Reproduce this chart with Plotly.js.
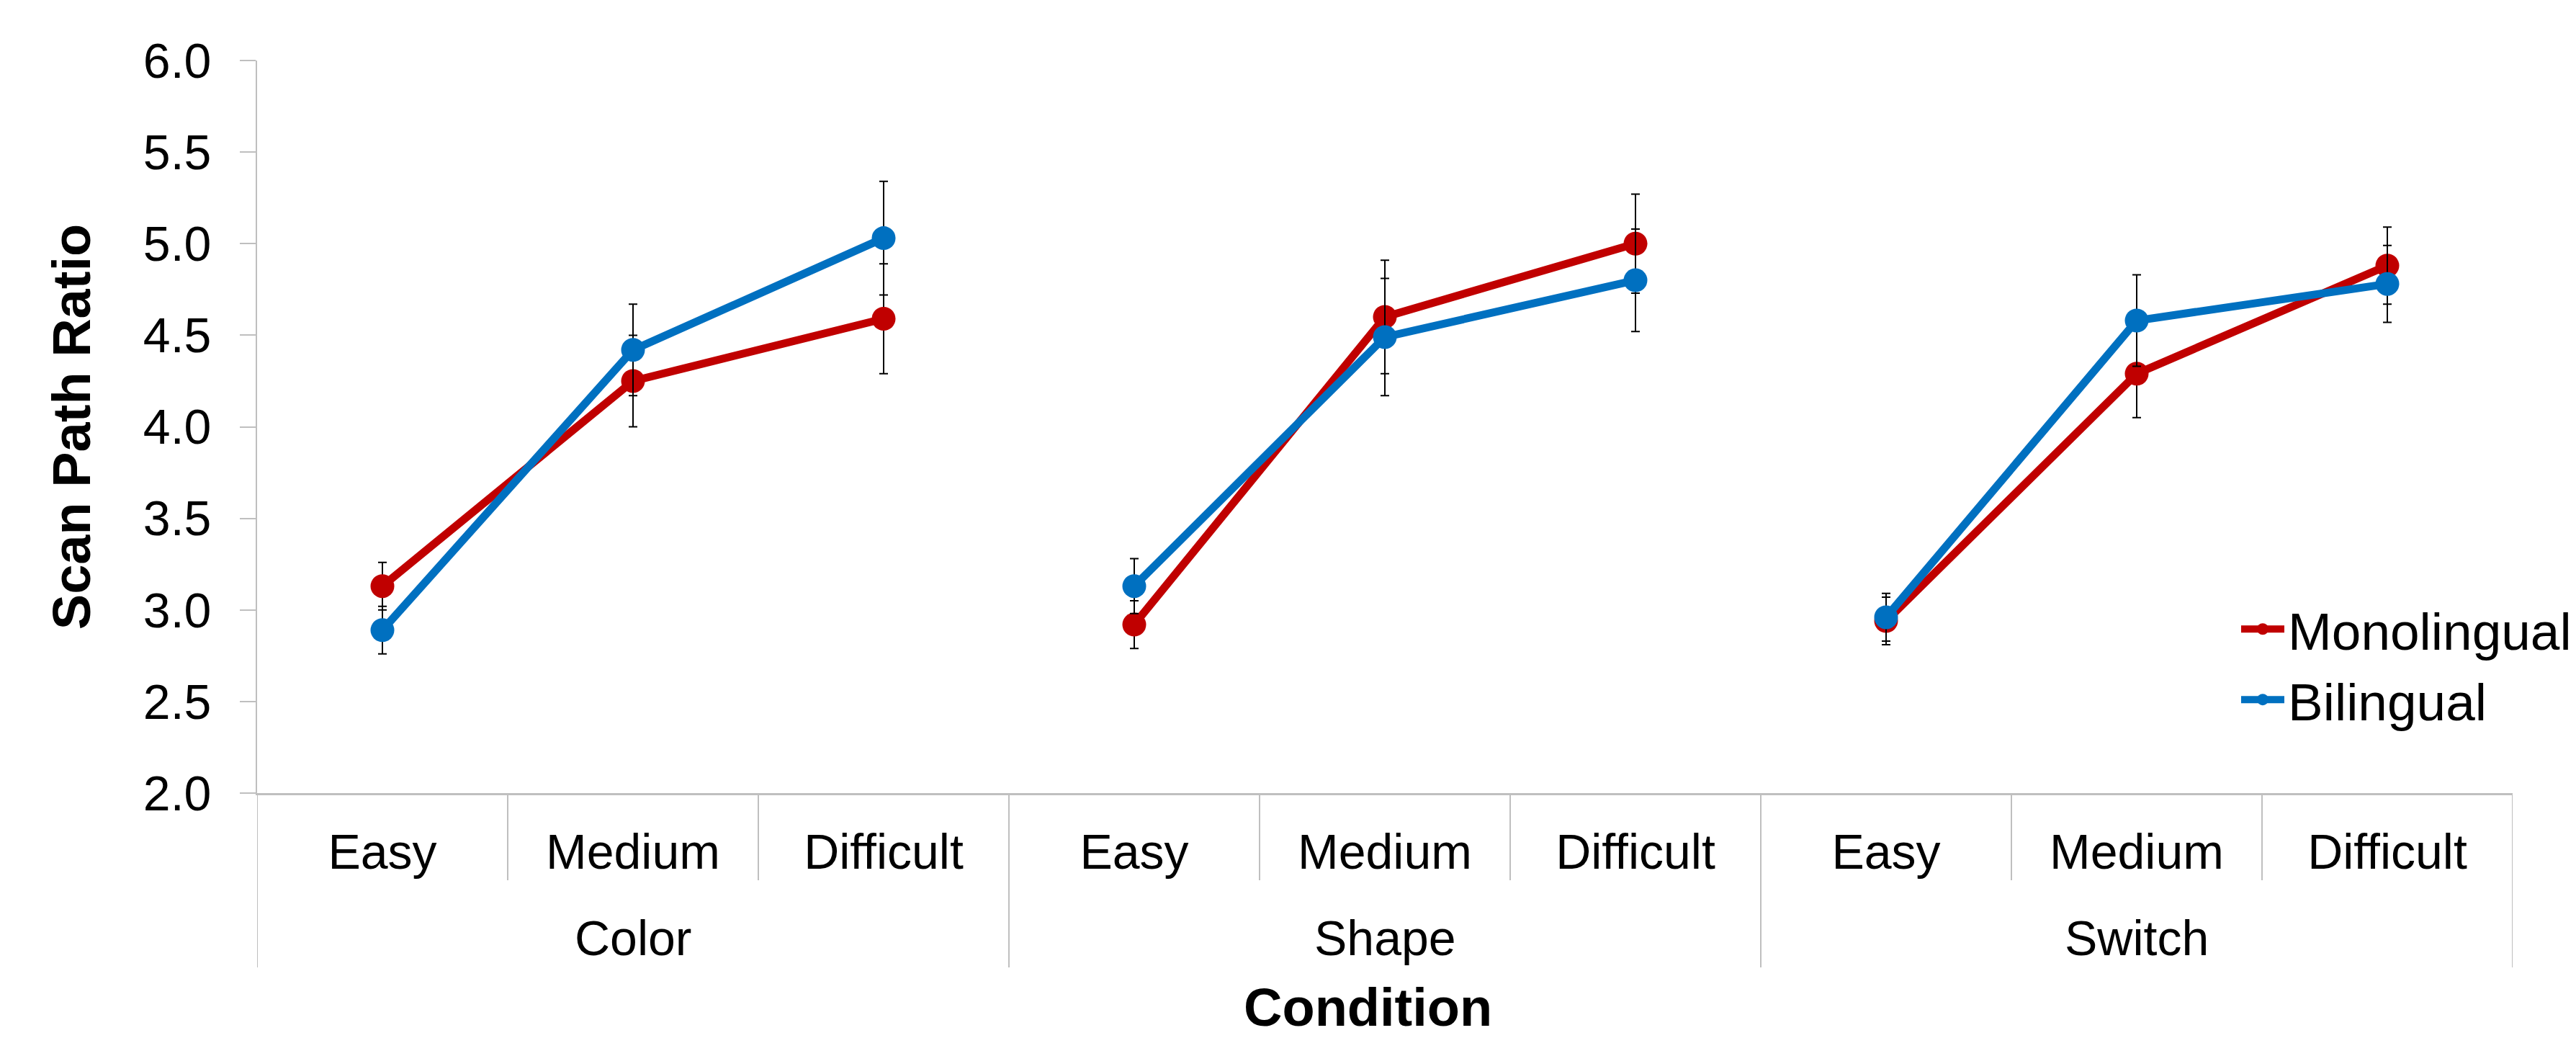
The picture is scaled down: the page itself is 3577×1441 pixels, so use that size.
<!DOCTYPE html>
<html>
<head>
<meta charset="utf-8">
<script src="https://cdn.plot.ly/plotly-3.0.1.min.js"></script>
<style>
  html, body { margin: 0; padding: 0; background: #ffffff; }
  #chart { width: 3577px; height: 1441px; }
</style>
</head>
<body>
<div id="chart"></div>
<script>
// ---- Data ----
const groups = ['Color', 'Shape', 'Switch'];
const levels = ['Easy', 'Medium', 'Difficult'];
const seriesNames = ['Monolingual', 'Bilingual'];
const monolingual    = [3.13, 4.25, 4.59, 2.92, 4.60, 5.00, 2.94, 4.29, 4.88];
const monolingualErr = [0.13, 0.25, 0.30, 0.13, 0.31, 0.27, 0.13, 0.24, 0.21];
const bilingual      = [2.89, 4.42, 5.03, 3.13, 4.49, 4.80, 2.96, 4.58, 4.78];
const bilingualErr   = [0.13, 0.25, 0.31, 0.15, 0.32, 0.28, 0.13, 0.25, 0.21];
const yTickVals = [2.0, 2.5, 3.0, 3.5, 4.0, 4.5, 5.0, 5.5, 6.0];
const xTitle = 'Condition';
const yTitle = 'Scan Path Ratio';

// ---- Styling ----
const FONT = 'Liberation Sans, Arial, Helvetica, sans-serif';
const colors = ['#C00000', '#0070C0'];
const axisGrey = '#BFBFBF';

const seriesVals = [monolingual, bilingual];
const seriesErrs = [monolingualErr, bilingualErr];
const nL = levels.length;

const traces = [];
seriesVals.forEach((vals, s) => {
  groups.forEach((g, gi) => {
    const idx = levels.map((_, li) => gi * nL + li);
    traces.push({
      type: 'scatter',
      mode: 'lines+markers',
      name: seriesNames[s],
      legendgroup: seriesNames[s],
      showlegend: gi === 0,
      x: idx,
      y: idx.map(i => vals[i]),
      error_y: {
        type: 'data',
        array: idx.map(i => seriesErrs[s][i]),
        visible: true,
        color: '#000000',
        thickness: 2,
        width: 6
      },
      line: { color: colors[s], width: 11 },
      marker: { color: colors[s], size: 33 },
      hoverinfo: 'x+y'
    });
  });
});

// tick positions and labels for the inner (difficulty) level
const tickVals = [];
const tickText = [];
groups.forEach((g, gi) => levels.forEach((l, li) => { tickVals.push(gi * nL + li); tickText.push(l); }));

// dividers (category boundaries) and group labels
const plotH = 1441 - 84 - 340;
const plotW = 3577 - 357 - 88;
const innerBottom = -(1222 - 1101) / plotH;
const groupBottom = -(1343 - 1101) / plotH;
const shapes = [];
for (let b = 0; b <= groups.length * nL; b++) {
  const isGroup = b % nL === 0;
  shapes.push({
    type: 'line', xref: 'x', yref: 'paper',
    x0: b - 0.5, x1: b - 0.5, y0: 0, y1: isGroup ? groupBottom : innerBottom,
    line: { color: axisGrey, width: 2 }, layer: 'below'
  });
}
const annotations = groups.map((g, gi) => ({
  xref: 'x', yref: 'paper',
  x: gi * nL + (nL - 1) / 2,
  y: -(1302 - 1101) / plotH,
  yanchor: 'middle', xanchor: 'center',
  text: g, showarrow: false,
  font: { family: FONT, size: 68, color: '#000000' }
}));
// x-axis title, placed like the original but kept fully inside the picture
annotations.push({
  xref: 'paper', yref: 'paper',
  x: (1899 - 357) / plotW,
  y: -(1398 - 1101) / plotH,
  xanchor: 'center', yanchor: 'middle',
  text: xTitle, showarrow: false,
  font: { family: FONT, size: 74, color: '#000000', weight: 'bold' }
});

const layout = {
  width: 3577, height: 1441,
  paper_bgcolor: '#ffffff', plot_bgcolor: '#ffffff',
  margin: { l: 357, r: 88, t: 84, b: 340, autoexpand: false },
  font: { family: FONT, color: '#000000' },
  showlegend: true,
  legend: {
    x: (3107 - 357) / plotW, xanchor: 'left',
    y: 0.277, yanchor: 'top',
    bgcolor: 'rgba(0,0,0,0)', borderwidth: 0,
    font: { family: FONT, size: 73, color: '#000000' },
    itemwidth: 60,
    tracegroupgap: 0
  },
  xaxis: {
    range: [-0.5, groups.length * nL - 0.5],
    tickvals: tickVals, ticktext: tickText,
    ticks: '', showgrid: false, zeroline: false,
    showline: true, linecolor: axisGrey, linewidth: 3,
    ticklabelstandoff: 20,
    tickfont: { family: FONT, size: 68, color: '#000000' }
  },
  yaxis: {
    range: [2, 6],
    tickvals: yTickVals, tickformat: '.1f',
    ticks: 'outside', ticklen: 22, tickwidth: 2, tickcolor: axisGrey,
    showgrid: false, zeroline: false,
    showline: true, linecolor: axisGrey, linewidth: 2,
    ticklabelstandoff: 26,
    tickfont: { family: FONT, size: 68, color: '#000000' },
    title: {
      text: yTitle,
      font: { family: FONT, size: 74, color: '#000000', weight: 'bold' },
      standoff: 49
    }
  },
  shapes: shapes,
  annotations: annotations
};

Plotly.newPlot('chart', traces, layout, { displayModeBar: false, responsive: false });
</script>
</body>
</html>
